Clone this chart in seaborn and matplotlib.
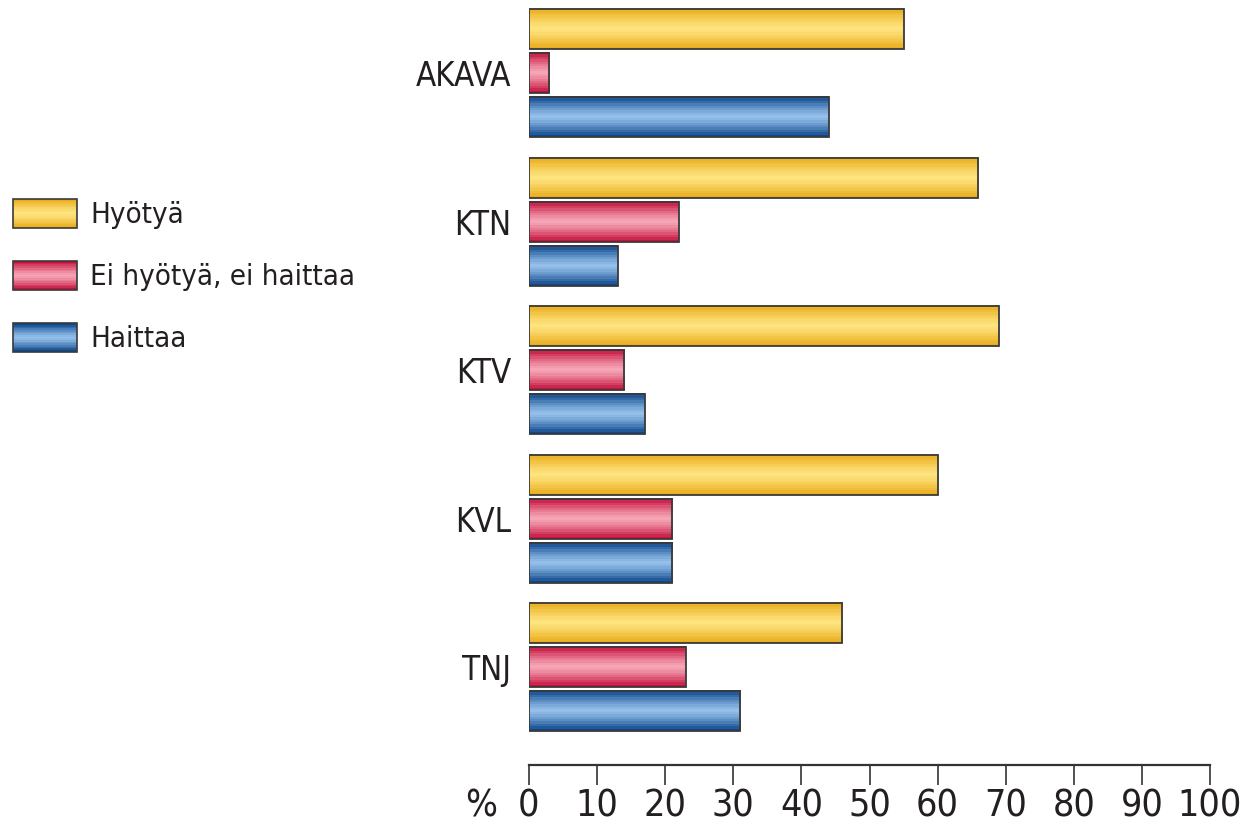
import matplotlib
matplotlib.use("Agg")
import matplotlib.pyplot as plt
import numpy as np
import pandas as pd
import seaborn as sns
from matplotlib import font_manager
from matplotlib.colors import to_rgb
from matplotlib.legend_handler import HandlerBase
from matplotlib.patches import Patch, Rectangle

# Data (%)
liitot = ["AKAVA", "KTN", "KTV", "KVL", "TNJ"]
vastaukset = ["Hyötyä", "Ei hyötyä, ei haittaa", "Haittaa"]
hyotya = [55, 66, 69, 60, 46]
ei_kumpaakaan = [3, 22, 14, 21, 23]
haittaa = [44, 13, 17, 21, 31]
x_ticks = [0, 10, 20, 30, 40, 50, 60, 70, 80, 90, 100]

df = pd.DataFrame({
    "liitto": liitot * 3,
    "vastaus": [v for v in vastaukset for _ in liitot],
    "osuus": hyotya + ei_kumpaakaan + haittaa,
})

# edge colour -> centre colour for the "tube" gradients
grad_colors = {
    "Hyötyä": ("#E9AC1C", "#FEE37E"),
    "Ei hyötyä, ei haittaa": ("#C5103B", "#F6A5B6"),
    "Haittaa": ("#0C468B", "#93BFEA"),
}


def stripes(name, n=17):
    dark = np.array(to_rgb(grad_colors[name][0]))
    light = np.array(to_rgb(grad_colors[name][1]))
    t = np.abs(np.linspace(-1, 1, n)) ** 1.3
    return [tuple(light + (dark - light) * k) for k in t]


sns.set_style("white")

# look for a narrow / condensed face, the original uses a condensed font
cands = [f for f in font_manager.fontManager.ttflist
         if ("Condensed" in f.fname or "Narrow" in f.fname)
         and f.style == "normal" and f.weight in (400, "normal", "regular")
         and "Semi" not in f.fname and "Extra" not in f.fname]
pref = ["LiberationSansNarrow", "DejaVuSansCondensed", "NotoSans",
        "Roboto", "OpenSans", "Lato", "Inter"]
cands.sort(key=lambda f: next((i for i, p in enumerate(pref)
                               if p in f.fname.replace("-", "")), 99))
if cands:
    fprop = font_manager.FontProperties(fname=cands[0].fname)
else:
    fprop = font_manager.FontProperties(family="DejaVu Sans")
plt.rcParams["font.family"] = ["DejaVu Sans"]
txt_color = "#231F20"

fig = plt.figure(figsize=(12.52, 8.3), dpi=100)
renderer = fig.canvas.get_renderer()


def fit_size(s, target_px, max_pt):
    t = fig.text(0, 0, s, fontproperties=fprop, fontsize=20)
    w = t.get_window_extent(renderer).width
    t.remove()
    return min(20 * target_px / w, max_pt)


fs_tick = fit_size("100", 64, 35)
fs_cat = fit_size("AKAVA", 96, 36)
fs_leg = fit_size("Ei hyötyä, ei haittaa", 264, 31)

ax = fig.add_axes([529 / 1252, 65 / 830, (1210 - 529) / 1252, 765 / 830])

palette = {k: v[1] for k, v in grad_colors.items()}
sns.barplot(data=df, y="liitto", x="osuus", hue="vastaus", order=liitot,
            hue_order=vastaukset, orient="h", palette=palette, width=0.888,
            gap=0.09, legend=False, ax=ax)

# replace flat fills by banded gradients
for cont, name in zip(ax.containers, vastaukset):
    grad = np.array(stripes(name))[:, None, :]
    for bar in cont:
        x0, y0 = bar.get_x(), bar.get_y()
        w, h = bar.get_width(), bar.get_height()
        ax.imshow(grad, extent=(x0, x0 + w, y0 + h, y0), aspect="auto",
                  interpolation="nearest", zorder=2)
        bar.set_facecolor("none")
        bar.set_edgecolor("#3A3A3A")
        bar.set_linewidth(1.3)
        bar.set_zorder(3)

ax.set_aspect("auto")
ax.set_xlim(0, 100)
ax.set_ylim(4.657, -0.491)
ax.set_xticks(x_ticks)
ax.set_xlabel("")
ax.set_ylabel("")
sns.despine(ax=ax, left=True)
ax.spines["bottom"].set_bounds(0, 100)
ax.spines["bottom"].set_linewidth(1.6)
ax.spines["bottom"].set_color("#333333")
ax.tick_params(axis="x", bottom=True, direction="out", length=14.5,
               width=1.2, color="#333333", pad=2)
ax.tick_params(axis="y", left=False, length=0, pad=13)
for lab in ax.get_xticklabels():
    lab.set_fontproperties(fprop)
    lab.set_fontsize(fs_tick)
    lab.set_color(txt_color)
for lab in ax.get_yticklabels():
    lab.set_fontproperties(fprop)
    lab.set_fontsize(fs_cat)
    lab.set_color(txt_color)

ax.annotate("%", xy=(-7, 0), xycoords=("data", "axes fraction"),
            xytext=(0, -16.5), textcoords="offset points", ha="center",
            va="top", fontproperties=fprop, fontsize=fs_tick,
            color=txt_color, annotation_clip=False)


class GradHandler(HandlerBase):
    def create_artists(self, legend, orig_handle, xdescent, ydescent, width,
                       height, fontsize, trans):
        cols = stripes(orig_handle.get_label())
        n = len(cols)
        arts = []
        for i, c in enumerate(cols):
            arts.append(Rectangle((-xdescent, -ydescent + height * i / n),
                                  width, height / n * 1.05, facecolor=c,
                                  edgecolor="none", transform=trans))
        arts.append(Rectangle((-xdescent, -ydescent), width, height,
                              facecolor="none", edgecolor="#3A3A3A", lw=1.2,
                              transform=trans))
        return arts


leg_px = fs_leg * 100 / 72
handles = [Patch(label=v) for v in vastaukset]
leg_prop = fprop.copy()
leg_prop.set_size(fs_leg)
fig.legend(handles=handles, labels=vastaukset,
           handler_map={h: GradHandler() for h in handles},
           loc="upper left", bbox_to_anchor=(13 / 1252, 1 - 199 / 830),
           frameon=False, prop=leg_prop, handlelength=64 / leg_px,
           handleheight=33 / leg_px, handletextpad=13 / leg_px,
           labelspacing=(67 - 1.2 * leg_px) / leg_px,
           borderpad=0, borderaxespad=0, labelcolor=txt_color)

fig.savefig("out.png", dpi=100)
